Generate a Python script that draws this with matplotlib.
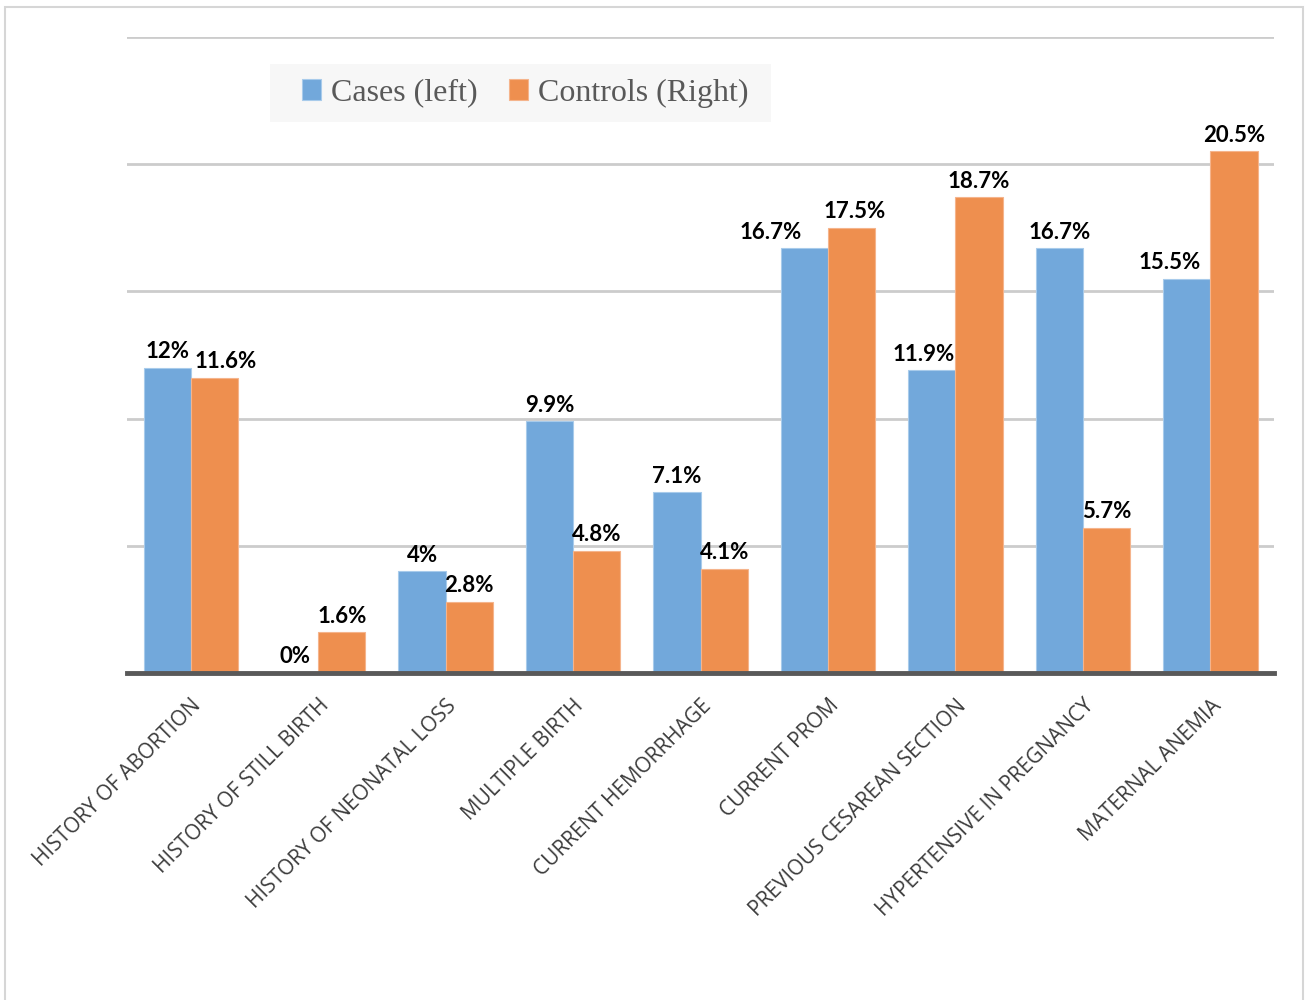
import matplotlib.pyplot as plt
from matplotlib.patches import Rectangle

categories = ["HISTORY OF ABORTION", "HISTORY OF STILL BIRTH", "HISTORY OF NEONATAL LOSS",
              "MULTIPLE BIRTH", "CURRENT HEMORRHAGE", "CURRENT PROM",
              "PREVIOUS CESAREAN SECTION", "HYPERTENSIVE IN PREGNANCY", "MATERNAL ANEMIA"]
cases = [12, 0, 4, 9.9, 7.1, 16.7, 11.9, 16.7, 15.5]
controls = [11.6, 1.6, 2.8, 4.8, 4.1, 17.5, 18.7, 5.7, 20.5]

blue = "#72A8DB"
orange = "#EE8F4F"
text_gray = "#595959"

# small sideways nudges (points) for labels that would overlap, like the original
nudge_cases = [0, 0, 0, 0, 0, -24, -6, 0, -12]
nudge_controls = [8, 0, 0, 0, 0, 2, 0, 0, 0]

fig = plt.figure(figsize=(13.08, 10), dpi=100)
ax = fig.add_axes([0.0971, 0.327, 0.877, 0.636])

# outer frame of the chart area
fig.patches.append(Rectangle((5 / 1308, -0.05), 1298 / 1308, 1.043, transform=fig.transFigure,
                             fill=False, edgecolor="#d6d6d6", linewidth=1.5))

x = list(range(len(categories)))
w = 0.37
b1 = ax.bar([i - w / 2 for i in x], cases, w, color=blue, edgecolor="#a8cbeb", linewidth=0.8,
            label="Cases (left)", zorder=3)
b2 = ax.bar([i + w / 2 for i in x], controls, w, color=orange, edgecolor="#f5b48c", linewidth=0.8,
            label="Controls (Right)", zorder=3)

for bars, vals, nud in ((b1, cases, nudge_cases), (b2, controls, nudge_controls)):
    for r, v, n in zip(bars, vals, nud):
        ax.annotate(f"{v:g}%", (r.get_x() + r.get_width() / 2, v), xytext=(n, 4),
                    textcoords="offset points", ha="center", va="bottom",
                    fontsize=16, fontweight="bold", family="Lato", color="black", zorder=4)

ax.set_xlim(-0.5, len(categories) - 0.5)
ax.set_ylim(0, 25)
ax.set_yticks([5, 10, 15, 20, 25])
ax.yaxis.grid(True, color="#cccccc", linewidth=2, zorder=0)
ax.tick_params(axis="y", left=False, labelleft=False)
ax.tick_params(axis="x", length=0, pad=16)
for s in ("top", "right", "left"):
    ax.spines[s].set_visible(False)
ax.spines["bottom"].set_color(text_gray)
ax.spines["bottom"].set_linewidth(3.5)
ax.spines["bottom"].set_zorder(5)

ax.set_xticks(x)
ax.set_xticklabels(categories, rotation=45, ha="right", va="top", rotation_mode="anchor",
                   fontsize=15, family="Open Sans", color="#3c3c3c")

# legend background box
ax.add_patch(Rectangle((0.1247, 0.866), 0.4368, 0.0915, transform=ax.transAxes,
                       facecolor="#f7f7f7", edgecolor="none", zorder=5))
leg = ax.legend(loc="center", bbox_to_anchor=(0.347, 0.9118), ncol=2, frameon=False,
                prop={"family": "Liberation Serif", "size": 23}, labelcolor=text_gray,
                handlelength=0.6, handleheight=0.6, handletextpad=0.3, columnspacing=1.0,
                borderaxespad=0, borderpad=0)
leg.set_zorder(6)

fig.savefig("out.png", dpi=100)
